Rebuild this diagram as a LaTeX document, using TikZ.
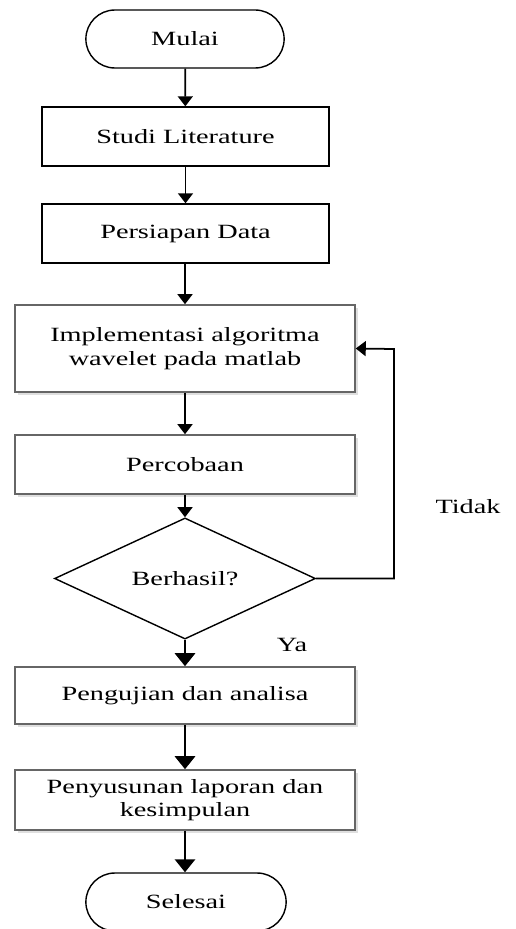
\documentclass[tikz,border=0pt]{standalone}
\usepackage{fontspec}
\setmainfont{Liberation Serif}[FakeStretch=1.4]
\usetikzlibrary{shapes.misc,shapes.geometric,arrows.meta,shadows}

\tikzset{
  terminal/.style={draw, line width=0.8pt, rounded rectangle, minimum width=4.2cm, minimum height=1.16cm, font=\fontsize{11.5}{13.5}\selectfont},
  plainbox/.style={draw, line width=0.8pt, rectangle, minimum width=5.74cm, minimum height=1.18cm, font=\fontsize{11.5}{13.5}\selectfont},
  shadebox/.style={draw=gray!80!black, line width=0.9pt, fill=white, rectangle, minimum width=6.8cm, minimum height=1.16cm, align=center, font=\fontsize{11.5}{13.5}\selectfont, drop shadow={opacity=0.25, shadow xshift=1.5pt, shadow yshift=-1.5pt}},
  decision/.style={draw, line width=0.8pt, diamond, inner sep=0pt, minimum width=5.22cm, minimum height=1.78cm, font=\fontsize{11.5}{13.5}\selectfont},
  flow/.style={-{Triangle[length=5.7pt,width=8.5pt]}, line width=1pt},
  flowthick/.style={-{Triangle[length=7.4pt,width=11.4pt]}, line width=1.7pt},
  lbl/.style={font=\fontsize{11.5}{13.5}\selectfont}
}

\begin{document}
\begin{tikzpicture}[x=0.02cm, y=0.02cm]
  \useasboundingbox (0,0) rectangle (515,-929);

  % start and first steps
  \node[terminal] (mulai) at (185,-39) {Mulai};
  \node[plainbox] (studi) at (185.5,-136.5) {Studi Literature};
  \node[plainbox] (persiapan) at (185.5,-233.5) {Persiapan Data};

  % loop part
  \node[shadebox, minimum height=1.74cm] (impl) at (185,-348.5) {Implementasi algoritma\\wavelet pada matlab};
  \node[shadebox, minimum height=1.18cm] (percobaan) at (185,-464.5) {Percobaan};
  \node[decision] (berhasil) at (185,-578.5) {Berhasil?};
  \coordinate (balik) at (394,-349);

  % final steps
  \node[shadebox, minimum height=1.14cm] (pengujian) at (185,-695.5) {Pengujian dan analisa};
  \node[shadebox, minimum height=1.2cm] (penyusunan) at (185,-800) {Penyusunan laporan dan\\kesimpulan};
  \node[terminal, minimum width=4.24cm] (selesai) at (186,-902) {Selesai};

  % labels
  \node[lbl] (ya) at (292,-645) {Ya};
  \node[lbl] (tidak) at (468,-507) {Tidak};

  % arrows
  \draw[flow] (mulai) -- (studi);
  \draw[flow] (studi) -- (persiapan);
  \draw[flow] (persiapan.south -| impl.north) -- (impl);
  \draw[flow] (impl) -- (percobaan);
  \draw[flow] (percobaan) -- (berhasil);
  \draw[flow] (berhasil.east) -| (balik) -- (impl.east);
  \draw[flowthick] (berhasil) -- (pengujian);
  \draw[flowthick] (pengujian) -- (penyusunan);
  \draw[flowthick] (penyusunan) -- (selesai.north -| penyusunan.south);
\end{tikzpicture}
\end{document}
